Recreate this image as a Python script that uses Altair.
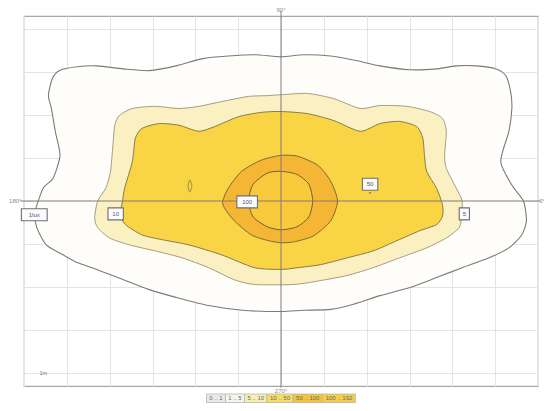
import altair as alt
import pandas as pd

# ---- contour outlines (metres, centre of luminaire at 0,0) ----
c1 = [(-5.70,-0.62),(-5.74,-0.25),(-5.55,0.30),(-5.32,0.53),(-5.16,1.06),(-5.27,1.62),(-5.36,2.15),
      (-5.43,2.45),(-5.34,2.84),(-5.18,3.03),(-4.76,3.12),(-4.30,3.14),(-3.68,3.07),(-3.08,3.03),
      (-2.45,3.14),(-1.83,3.31),(-1.23,3.37),(-0.60,3.40),(0.00,3.35),(0.53,3.40),(1.16,3.37),
      (1.78,3.26),(2.31,3.14),(3.01,3.05),(3.63,3.07),(4.09,3.14),(4.55,3.14),(5.02,3.07),
      (5.25,2.91),(5.36,2.54),(5.39,2.15),(5.32,1.62),(5.13,0.92),(5.39,0.37),(5.66,0.00),
      (5.73,-0.46),(5.62,-0.79),(5.32,-1.09),(4.86,-1.32),(4.23,-1.55),(3.63,-1.78),(3.01,-2.01),
      (2.31,-2.20),(1.69,-2.40),(1.16,-2.52),(0.53,-2.54),(0.00,-2.57),(-0.90,-2.54),(-1.69,-2.43),
      (-2.45,-2.24),(-3.08,-2.06),(-3.68,-1.83),(-4.30,-1.59),(-4.76,-1.43),(-5.09,-1.25),(-5.48,-1.02)]
c5 = [(-4.35,-0.39),(-4.28,0.00),(-4.09,0.30),(-3.98,0.69),(-3.93,1.23),(-3.88,1.76),(-3.77,1.99),
      (-3.47,2.15),(-2.94,2.20),(-2.38,2.15),(-1.92,2.20),(-1.39,2.31),(-0.76,2.43),(-0.30,2.45),
      (0.00,2.47),(0.62,2.50),(1.23,2.38),(1.85,2.15),(2.31,2.22),(2.94,2.20),(3.47,2.08),(3.77,1.92),
      (3.86,1.62),(3.82,1.06),(3.86,0.76),(4.09,0.30),(4.23,0.00),(4.21,-0.39),(4.16,-0.62),
      (3.86,-0.86),(3.40,-1.09),(2.77,-1.32),(2.15,-1.55),(1.55,-1.73),(0.92,-1.85),(0.30,-1.94),
      (-0.62,-1.94),(-1.09,-1.83),(-1.69,-1.55),(-2.31,-1.32),(-2.94,-1.16),(-3.54,-1.02),
      (-4.00,-0.86),(-4.28,-0.62)]
c10 = [(-3.70,0.00),(-3.65,0.30),(-3.47,0.92),(-3.40,1.46),(-3.24,1.69),(-2.84,1.80),(-2.38,1.76),
       (-1.92,1.62),(-1.55,1.73),(-0.99,1.96),(-0.46,2.06),(0.00,2.08),(0.62,2.03),(1.23,1.87),
       (1.85,1.62),(2.31,1.80),(2.77,1.85),(3.17,1.73),(3.31,1.46),(3.35,1.06),(3.40,0.69),
       (3.63,0.30),(3.77,-0.09),(3.77,-0.35),(3.63,-0.55),(3.24,-0.69),(2.71,-0.92),(2.15,-1.16),
       (1.55,-1.32),(0.92,-1.48),(0.39,-1.55),(0.00,-1.59),(-0.62,-1.55),(-1.39,-1.25),
       (-2.15,-1.02),(-2.77,-0.90),(-3.24,-0.79),(-3.63,-0.55),(-3.75,-0.32)]
c100 = [(-1.36,0.00),(-1.23,0.30),(-0.92,0.69),(-0.46,0.95),(0.00,1.06),(0.39,1.04),(0.86,0.83),
        (1.16,0.46),(1.32,0.00),(1.16,-0.46),(0.76,-0.81),(0.30,-0.95),(0.00,-0.97),(-0.30,-0.92),
        (-0.69,-0.79),(-1.09,-0.46),(-1.32,-0.16)]
c_in = [(-0.76,0.00),(-0.65,0.39),(-0.32,0.65),(0.00,0.69),(0.37,0.62),(0.65,0.39),(0.74,0.00),
        (0.65,-0.37),(0.37,-0.60),(0.00,-0.67),(-0.32,-0.60),(-0.65,-0.37)]
c_small = [(-2.17,0.35),(-2.13,0.49),(-2.08,0.35),(-2.13,0.21)]

# ---- contour labels ----
lab_text = ["1lux", "10", "100", "50", "5"]
lab_x = [-5.76, -3.86, -0.79, 2.08, 4.28]
lab_y = [-0.32, -0.30, -0.02, 0.39, -0.30]

# ---- compass labels ----
compass = ["0°", "90°", "180°", "270°"]

# ---- legend ----
leg_labels = ["0 .. 1", "1 .. 5", "5 .. 10", "10 .. 50", "50 .. 100", "100 .. 192"]
leg_colors = ["#e9e9e9", "#f5f4ee", "#f7eeb2", "#f7dc66", "#f4c53c", "#f6cd4a"]

W, H = 514, 370
K = W / 12.0
KY = H / 8.6
xs = alt.Scale(domain=[-6, 6], nice=False, zero=False)
ys = alt.Scale(domain=[-4.3, 4.3], nice=False, zero=False)


def poly(pts):
    return pd.DataFrame({"i": list(range(len(pts))),
                         "x": [p[0] for p in pts], "y": [p[1] for p in pts]})


grid_axis = dict(grid=True, labels=False, ticks=False, domain=False, title=None,
                 gridColor="#e6e3e3", gridWidth=1)

base = alt.Chart(pd.DataFrame({"v": [0]})).mark_point(opacity=0).encode(
    x=alt.X("v:Q", scale=xs, axis=alt.Axis(values=list(range(-6, 7)), **grid_axis)),
    y=alt.Y("v:Q", scale=ys, axis=alt.Axis(values=list(range(-4, 5)), **grid_axis)),
)


def shape(pts, fill, stroke, sw=1.0):
    return alt.Chart(poly(pts)).mark_line(
        interpolate="cardinal-closed", tension=0.3, fill=fill, stroke=stroke, strokeWidth=sw
    ).encode(x=alt.X("x:Q", scale=xs), y=alt.Y("y:Q", scale=ys), order="i:Q")


layers = [
    base,
    shape(c1, "#fefdfa", "#7a7a7a", 1.1),
    shape(c5, "#faf0c2", "#a59d80", 1.0),
    shape(c10, "#f9d546", "#857a4c", 1.0),
    shape(c100, "#f4b634", "#7a6a3a", 1.0),
    shape(c_in, "#f8c93b", "#6f6033", 1.0),
    shape(c_small, "none", "#8a7a40", 0.9),
]

# centre cross
cross_v = alt.Chart(pd.DataFrame({"v": [0]})).mark_rule(color="#7d7d7d", strokeWidth=1).encode(
    x=alt.X("v:Q", scale=xs), y=alt.datum(-4.34), y2=alt.datum(4.42))
cross_h = alt.Chart(pd.DataFrame({"v": [0]})).mark_rule(color="#7d7d7d", strokeWidth=1).encode(
    y=alt.Y("v:Q", scale=ys), x=alt.datum(-6.08), x2=alt.datum(6.06))
layers += [cross_v, cross_h]

# compass labels around the frame
cdf = pd.DataFrame({
    "t": compass,
    "x": [6.0 + 1.5 / K, 0.0, -6.0 - 2.5 / K, 0.0],
    "y": [0.0, 4.3 + 6.5 / KY, 0.0, -4.3 - 4.5 / KY],
    "al": ["left", "center", "right", "center"],
})
for _, r in cdf.iterrows():
    layers.append(alt.Chart(pd.DataFrame([r])).mark_text(
        fontSize=6, color="#8a8a8a", align=r["al"], baseline="middle", font="Liberation Sans"
    ).encode(x=alt.X("x:Q", scale=xs), y=alt.Y("y:Q", scale=ys), text="t:N"))

# scale label
layers.append(alt.Chart(pd.DataFrame({"t": ["1m"], "x": [-5.55], "y": [-4.0]})).mark_text(
    fontSize=5.5, color="#777", font="Liberation Sans").encode(
    x=alt.X("x:Q", scale=xs), y=alt.Y("y:Q", scale=ys), text="t:N"))

# contour label boxes
ldf = pd.DataFrame({"t": lab_text, "x": lab_x, "y": lab_y})
hw = (ldf["t"].str.len() * 2.6 + 2.5) / K
ldf["x0"] = ldf["x"] - hw
ldf["x1"] = ldf["x"] + hw
ldf["y0"] = ldf["y"] - 6.0 / KY
ldf["y1"] = ldf["y"] + 6.0 / KY
layers.append(alt.Chart(ldf).mark_rect(fill="#fbfbfd", stroke="#6f6f6f", strokeWidth=1.1).encode(
    x=alt.X("x0:Q", scale=xs), x2="x1:Q", y=alt.Y("y0:Q", scale=ys), y2="y1:Q"))
layers.append(alt.Chart(ldf).mark_text(fontSize=6, color="#4d5a7a", font="Liberation Sans").encode(
    x=alt.X("x:Q", scale=xs), y=alt.Y("y:Q", scale=ys), text="t:N"))
layers.append(alt.Chart(ldf[ldf["t"] == "50"].assign(yy=lambda d: d["y"] - 9.0 / KY)).mark_point(
    shape="triangle-down", size=8, filled=True, color="#666").encode(
    x=alt.X("x:Q", scale=xs), y=alt.Y("yy:Q", scale=ys)))

# legend strip below the frame (pixel layout)
widths = [len(s) * 3.5 - 2 for s in leg_labels]
total = sum(widths)
starts = []
acc = W / 2 - total / 2
for w in widths:
    starts.append(acc)
    acc += w
gdf = pd.DataFrame({"t": leg_labels, "c": leg_colors,
                    "a": starts, "b": [s + w for s, w in zip(starts, widths)]})
gdf["m"] = (gdf["a"] + gdf["b"]) / 2
gdf["top"] = H + 8
gdf["bot"] = H + 16.5
gdf["mid"] = H + 12.3
layers.append(alt.Chart(gdf).mark_rect(stroke="#b5b5b5", strokeWidth=0.8).encode(
    x=alt.X("a:Q", scale=None), x2="b:Q", y=alt.Y("top:Q", scale=None), y2="bot:Q",
    fill=alt.Fill("c:N", scale=None)))
layers.append(alt.Chart(gdf).mark_text(fontSize=6, color="#6a6a6a", font="Liberation Sans").encode(
    x=alt.X("m:Q", scale=None), y=alt.Y("mid:Q", scale=None), text="t:N"))

chart = alt.layer(*layers).properties(
    width=W, height=H,
    autosize=alt.AutoSizeParams(type="none"),
    padding={"left": 16, "top": 8, "right": 6, "bottom": 17},
    background="white",
).configure_view(stroke="#a8a8a8", strokeWidth=1.2)

chart.save("out.html", embed_options={"renderer": "svg", "actions": False})
